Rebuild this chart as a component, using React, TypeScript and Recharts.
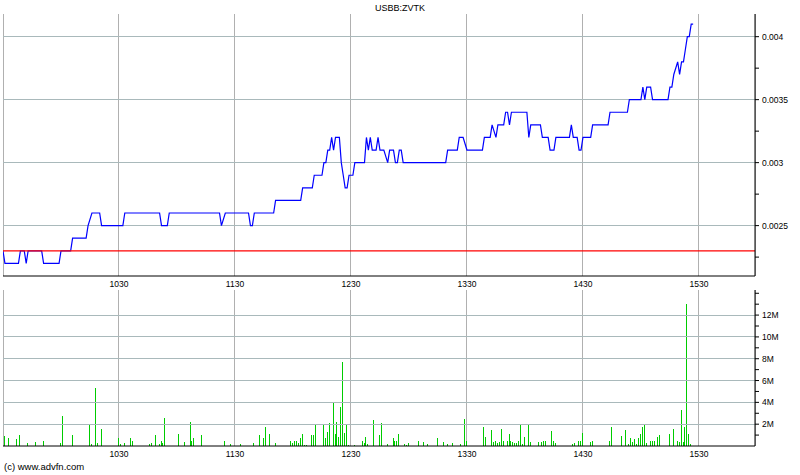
import { LineChart, Line, BarChart, Bar, XAxis, YAxis, CartesianGrid, ReferenceLine } from "recharts";

const SYMBOL = "USBB:ZVTK";
const FOOTER = "(c) www.advfn.com";
const PREV_CLOSE = 0.0023;

// minutes after 09:30
const timeTicks = [60, 120, 180, 240, 300, 360];

const priceMajorTicks = [0.0025, 0.003, 0.0035, 0.004];
const priceAllTicks = [0.00225, 0.0025, 0.00275, 0.003, 0.00325, 0.0035, 0.00375, 0.004];

const volMajorTicks = [2, 4, 6, 8, 10, 12];
const volAllTicks = [1, 2, 3, 4, 5, 6, 7, 8, 9, 10, 11, 12, 13, 14];

const priceMinutes = [
  0, 1, 8, 9, 11, 12, 13, 20, 21, 29, 30, 35, 36, 43, 44, 46, 50, 51, 62, 63,
  81, 82, 85, 86, 112, 113, 115, 127, 128, 129, 130, 140, 141, 154, 155, 160, 161, 165, 166, 167,
  168, 169, 170, 171, 172, 174, 175, 176, 177, 178, 179, 181, 182, 187, 188, 189, 190, 191, 193, 194,
  195, 197, 199, 200, 202, 203, 204, 205, 206, 207, 229, 230, 235, 236, 238, 240, 248, 249, 252, 253,
  255, 256, 259, 260, 261, 262, 263, 271, 272, 273, 278, 279, 282, 283, 285, 286, 293, 294, 295, 297,
  298, 299, 300, 304, 305, 313, 314, 323, 324, 330, 331, 332, 333, 335, 336, 344, 345, 346, 347, 349,
  350, 351, 352, 353, 354, 355, 356, 357,
];
const priceValues = [
  0.0023, 0.0022, 0.0022, 0.0023, 0.0023, 0.0022, 0.0023, 0.0023, 0.0022, 0.0022, 0.0023, 0.0023, 0.0024, 0.0024, 0.0025, 0.0026, 0.0026, 0.0025, 0.0025, 0.0026,
  0.0026, 0.0025, 0.0025, 0.0026, 0.0026, 0.0025, 0.0026, 0.0026, 0.0025, 0.0025, 0.0026, 0.0026, 0.0027, 0.0027, 0.0028, 0.0028, 0.0029, 0.0029, 0.003, 0.003,
  0.0031, 0.0031, 0.0032, 0.0031, 0.0032, 0.0032, 0.003, 0.0029, 0.0028, 0.0028, 0.0029, 0.0029, 0.003, 0.003, 0.0032, 0.0031, 0.0032, 0.0031, 0.0031, 0.0032,
  0.0031, 0.0031, 0.003, 0.0031, 0.0031, 0.003, 0.003, 0.0031, 0.0031, 0.003, 0.003, 0.0031, 0.0031, 0.0032, 0.0032, 0.0031, 0.0031, 0.0032, 0.0032, 0.0033,
  0.0032, 0.0033, 0.0033, 0.0034, 0.0034, 0.0033, 0.0034, 0.0034, 0.0032, 0.0033, 0.0033, 0.0032, 0.0032, 0.0031, 0.0031, 0.0032, 0.0032, 0.0033, 0.0032, 0.0032,
  0.0031, 0.0031, 0.0032, 0.0032, 0.0033, 0.0033, 0.0034, 0.0034, 0.0035, 0.0035, 0.0036, 0.0035, 0.0036, 0.0036, 0.0035, 0.0035, 0.0036, 0.0036, 0.0037, 0.0038,
  0.0037, 0.0038, 0.0038, 0.0039, 0.004, 0.004, 0.0041, 0.0041,
];

// volume in millions
const volMinutes = [
  1, 3, 7, 9, 13, 17, 21, 30, 31, 36, 45, 46, 48, 49, 51, 60, 61, 63, 66, 67,
  76, 77, 79, 81, 82, 83, 84, 91, 94, 97, 98, 99, 103, 115, 118, 123, 130, 133, 135, 136,
  138, 141, 149, 150, 151, 152, 153, 154, 155, 156, 157, 160, 161, 162, 166, 167, 168, 169, 171, 172,
  173, 174, 175, 176, 177, 178, 179, 182, 186, 187, 188, 189, 192, 195, 196, 199, 202, 203, 204, 205,
  208, 209, 210, 215, 218, 220, 225, 228, 230, 233, 237, 239, 240, 249, 250, 253, 254, 255, 256, 257,
  258, 259, 261, 262, 263, 264, 265, 266, 267, 268, 269, 270, 272, 273, 277, 279, 280, 281, 284, 285,
  286, 295, 296, 298, 299, 300, 304, 305, 314, 315, 320, 322, 324, 325, 326, 327, 328, 329, 330, 331,
  332, 333, 335, 336, 337, 339, 340, 345, 347, 349, 350, 351, 352, 353, 354, 355, 356,
];
const volValues = [
  0.9, 0.7, 0.6, 1.0, 0.25, 0.35, 0.45, 0.25, 2.75, 1.0, 2.0, 0.2, 5.3, 0.25, 1.55, 0.7, 0.2, 0.25, 0.7, 0.5,
  0.15, 0.25, 1.0, 0.15, 0.45, 0.25, 2.55, 1.1, 0.35, 2.2, 0.5, 0.7, 1.0, 0.45, 0.15, 0.15, 0.25, 1.0, 0.7, 1.7,
  1.1, 0.25, 0.5, 0.25, 0.5, 0.5, 0.3, 0.7, 1.1, 0.1, 0.1, 1.0, 1.0, 1.9, 1.9, 0.7, 1.3, 2.1, 4.0, 1.1,
  2.2, 0.8, 3.6, 7.7, 1.2, 1.9, 0.1, 0.1, 0.5, 0.3, 0.8, 0.2, 2.35, 1.0, 2.1, 0.2, 0.7, 0.5, 0.5, 1.1,
  0.2, 0.1, 0.3, 0.5, 0.4, 0.2, 0.7, 0.4, 0.2, 0.3, 0.2, 2.45, 0.5, 1.7, 0.8, 1.5, 0.4, 0.5, 0.3, 0.4,
  1.6, 0.5, 0.5, 1.1, 0.5, 0.35, 0.25, 0.25, 0.5, 2.0, 0.15, 0.8, 2.0, 0.35, 0.35, 0.35, 0.45, 0.45, 1.35, 0.5,
  0.25, 0.15, 0.25, 0.5, 0.5, 1.15, 0.35, 0.45, 0.5, 1.7, 0.9, 1.45, 0.15, 0.7, 0.35, 0.6, 0.15, 0.7, 1.1, 1.7,
  1.9, 0.25, 0.45, 0.45, 0.5, 0.8, 1.0, 1.1, 1.6, 0.5, 0.35, 3.3, 0.35, 1.7, 13.0, 1.1, 0.15,
];

const priceData = priceMinutes.map((t, i) => ({ t, p: priceValues[i] }));
const volData = volMinutes.map((t, i) => ({ t, v: volValues[i] }));

const FONT = "'Liberation Sans', Arial, sans-serif";
const X_DOMAIN: [number, number] = [0, 389];
const GRID_V = "#b0b0b0";
const GRID_H = "#a9b9bb";

const fmtTime = (m: number) => {
  const total = 9 * 60 + 30 + m;
  const h = Math.floor(total / 60);
  const mm = total % 60;
  return `${h}${mm < 10 ? "0" : ""}${mm}`;
};

const axisTick = { fontSize: 8.5, fill: "#000", fontFamily: FONT };

export default function App() {
  return (
    <div style={{ position: "absolute", left: 0, top: 0, width: 800, height: 475, background: "#fff", fontFamily: FONT }}>
      <div style={{ position: "absolute", top: 4, left: 0, width: 800, textAlign: "center", fontSize: 9, lineHeight: "9px", color: "#000" }}>
        {SYMBOL}
      </div>

      <div style={{ position: "absolute", left: 0, top: 0 }}>
        <LineChart width={800} height={290} data={priceData} margin={{ top: 14, right: 0, bottom: 0, left: 3 }}>
          <CartesianGrid horizontal={false} stroke={GRID_V} shapeRendering="crispEdges" />
          {priceMajorTicks.map((v) => (
            <ReferenceLine key={v} y={v} stroke={GRID_H} shapeRendering="crispEdges" />
          ))}
          <XAxis
            dataKey="t"
            type="number"
            domain={X_DOMAIN}
            ticks={timeTicks}
            tickFormatter={fmtTime}
            allowDataOverflow
            height={14}
            tickLine={false}
            tickSize={0}
            tickMargin={5}
            axisLine={{ stroke: "#000" }}
            tick={axisTick}
          />
          <XAxis xAxisId="top" orientation="top" type="number" domain={X_DOMAIN} height={0} tick={false} tickLine={false} axisLine={{ stroke: "#000" }} />
          <YAxis
            orientation="right"
            width={45}
            domain={[0.0021, 0.00418]}
            ticks={priceAllTicks}
            interval={0}
            allowDataOverflow
            tickSize={4}
            tickMargin={3}
            axisLine={{ stroke: "#000" }}
            tickLine={{ stroke: "#000" }}
            tick={axisTick}
            tickFormatter={(v: number) => (priceMajorTicks.includes(v) ? String(v) : "")}
          />
          <YAxis yAxisId="left" orientation="left" width={0} domain={[0.0021, 0.00418]} ticks={priceAllTicks} interval={0} tick={false} tickSize={2} axisLine={{ stroke: "#000" }} tickLine={{ stroke: "#000" }} />
          <Line dataKey="p" type="linear" stroke="#0000ff" strokeWidth={1.2} dot={false} isAnimationActive={false} />
          <ReferenceLine y={PREV_CLOSE} stroke="#ff0000" strokeWidth={1.2} />
        </LineChart>
      </div>

      <div style={{ position: "absolute", left: 0, top: 290 }}>
        <BarChart width={800} height={170} data={volData} margin={{ top: 0, right: 0, bottom: 0, left: 3 }}>
          <CartesianGrid horizontal={false} stroke={GRID_V} shapeRendering="crispEdges" />
          {volMajorTicks.map((v) => (
            <ReferenceLine key={v} y={v} stroke={GRID_H} shapeRendering="crispEdges" />
          ))}
          <XAxis
            dataKey="t"
            type="number"
            domain={X_DOMAIN}
            ticks={timeTicks}
            tickFormatter={fmtTime}
            allowDataOverflow
            height={14}
            tickLine={false}
            tickSize={0}
            tickMargin={5}
            axisLine={{ stroke: "#000" }}
            tick={axisTick}
          />
          <XAxis xAxisId="top" orientation="top" type="number" domain={X_DOMAIN} height={0} tick={false} tickLine={false} axisLine={{ stroke: "#000" }} />
          <YAxis
            orientation="right"
            width={45}
            domain={[0, 14.3]}
            ticks={volAllTicks}
            interval={0}
            allowDataOverflow
            tickSize={4}
            tickMargin={3}
            axisLine={{ stroke: "#000" }}
            tickLine={{ stroke: "#000" }}
            tick={axisTick}
            tickFormatter={(v: number) => (volMajorTicks.includes(v) ? `${v}M` : "")}
          />
          <YAxis yAxisId="left" orientation="left" width={0} domain={[0, 14.3]} ticks={volAllTicks} interval={0} tick={false} tickSize={2} axisLine={{ stroke: "#000" }} tickLine={{ stroke: "#000" }} />
          <Bar dataKey="v" fill="#00cc00" barSize={1} shapeRendering="crispEdges" isAnimationActive={false} />
        </BarChart>
      </div>

      <div style={{ position: "absolute", top: 462, left: 4, fontSize: 9.5, lineHeight: "9.5px", color: "#000" }}>
        {FOOTER}
      </div>
    </div>
  );
}
